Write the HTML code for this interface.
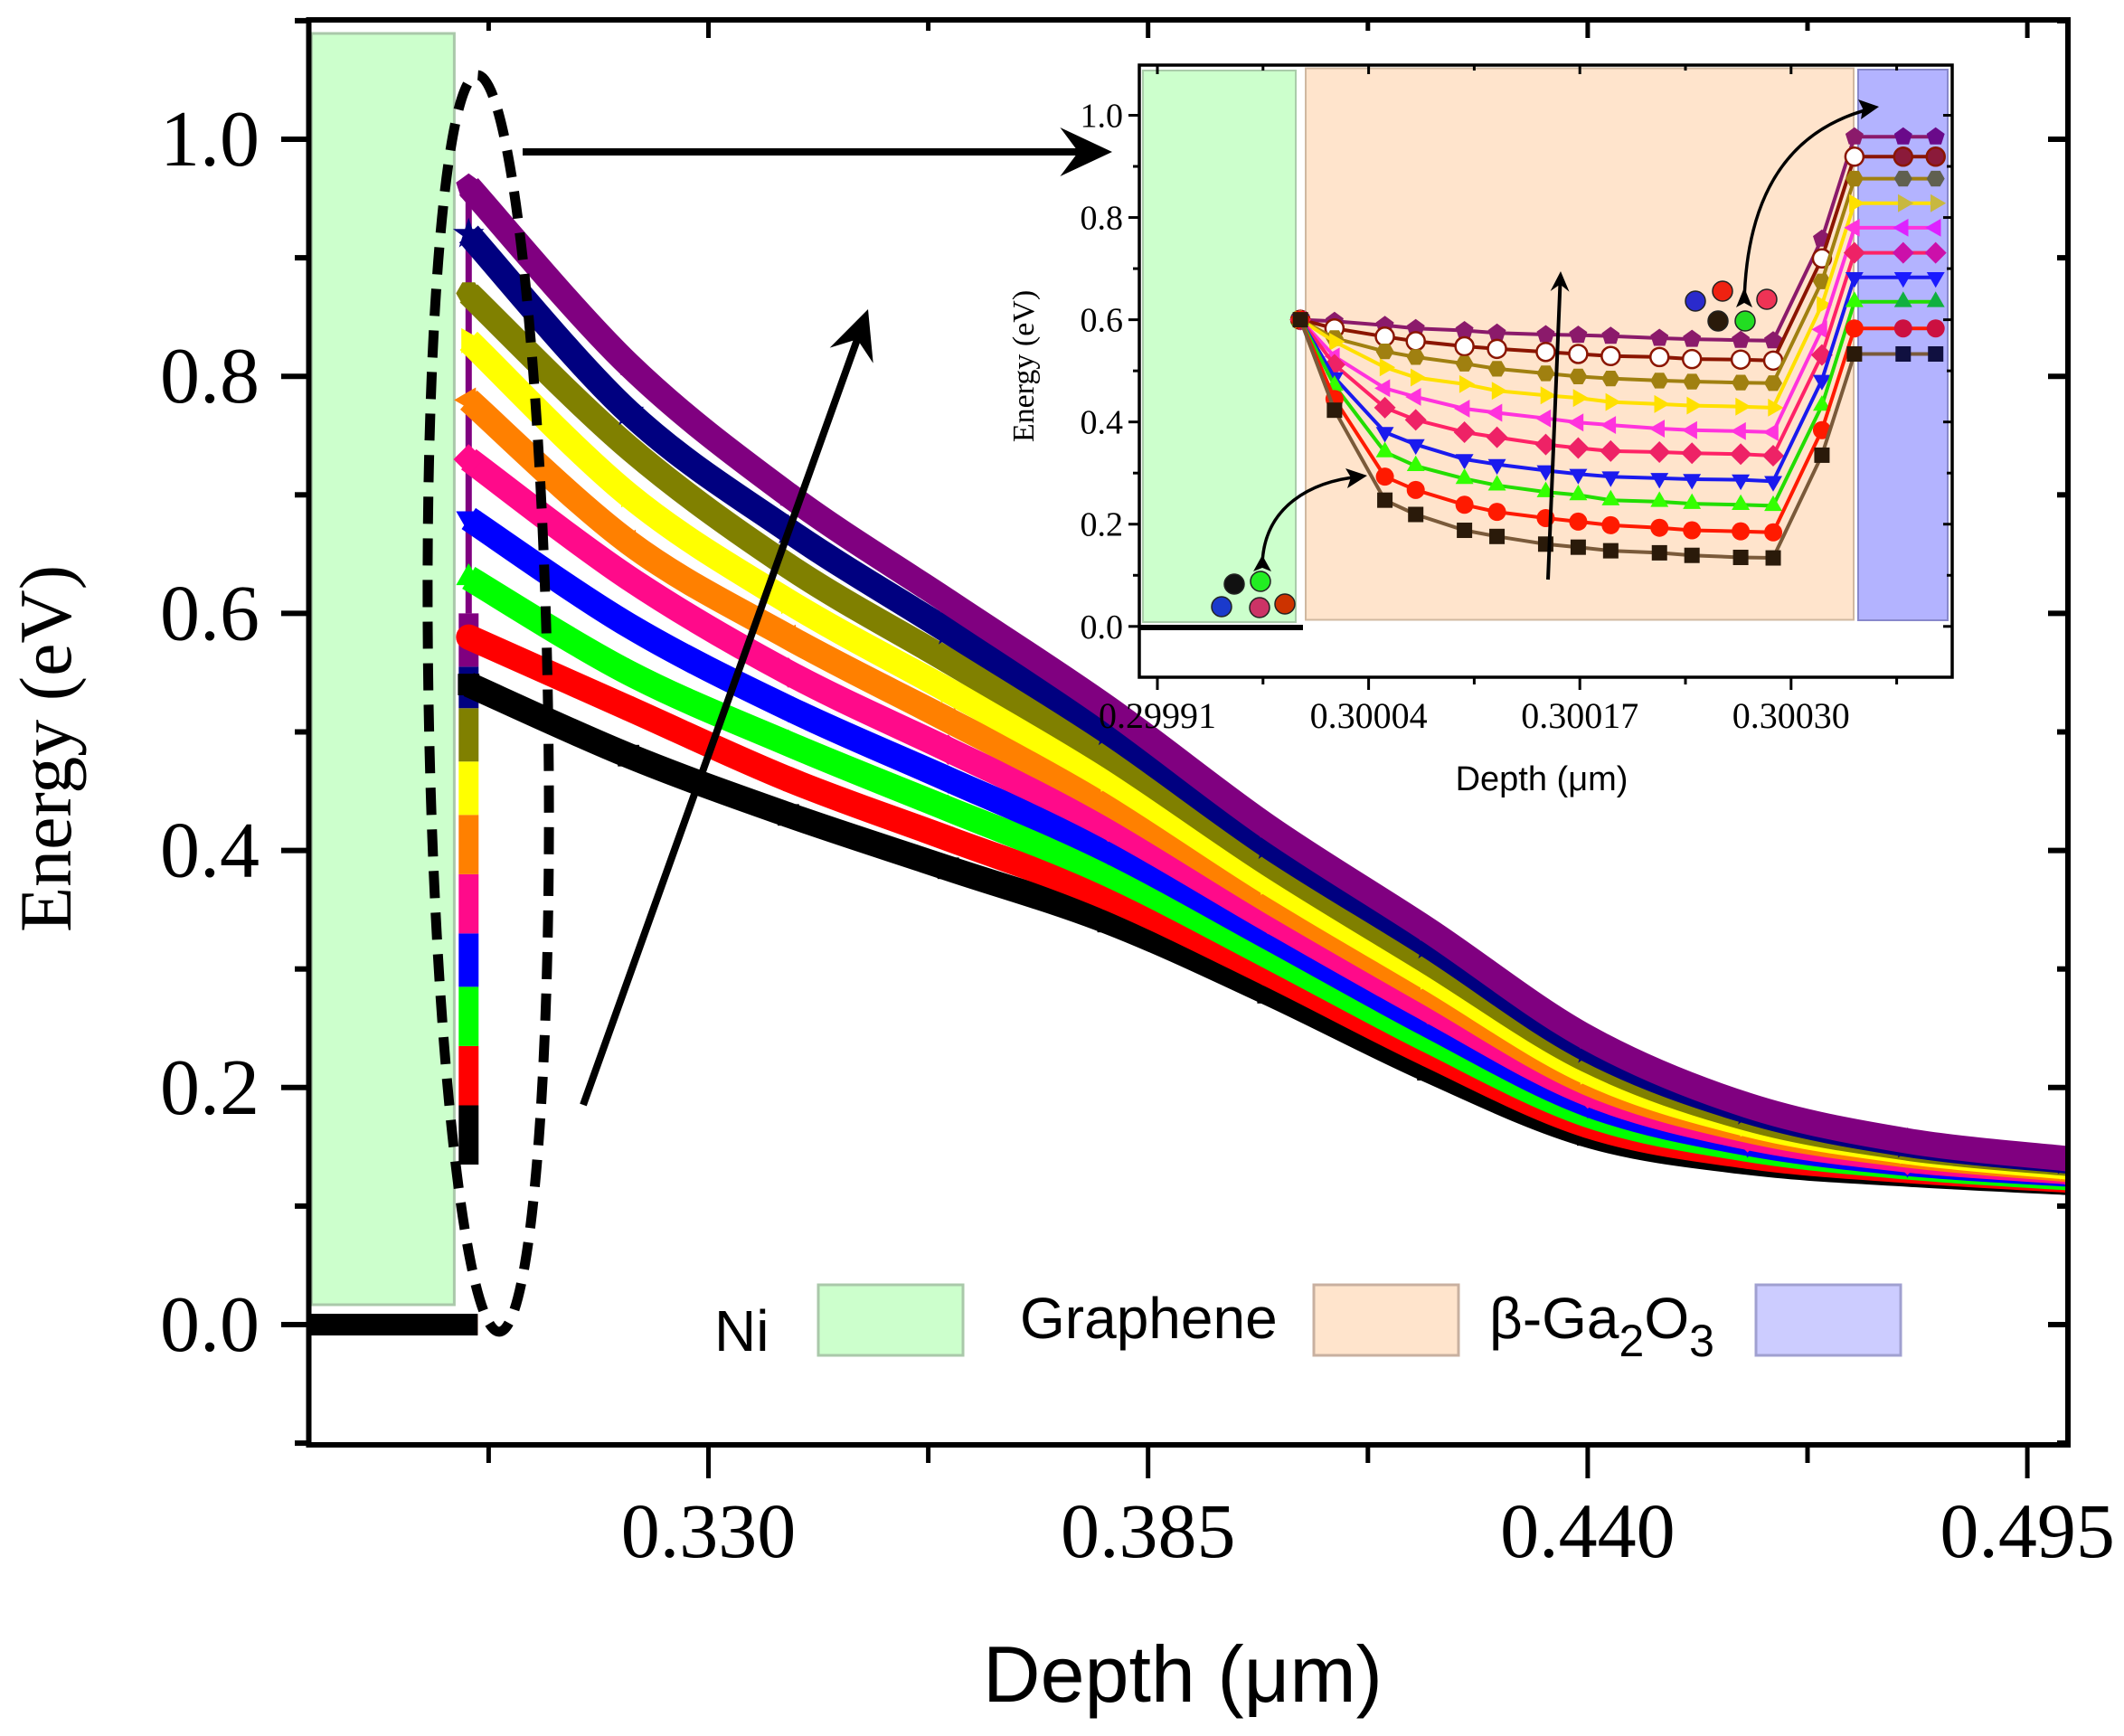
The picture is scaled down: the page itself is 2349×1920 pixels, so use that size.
<!DOCTYPE html>
<html><head><meta charset="utf-8"><style>
html,body{margin:0;padding:0;background:#fff;}
svg{display:block;}
</style></head><body>
<svg id="chart" width="2349" height="1920" viewBox="0 0 2349 1920" xmlns="http://www.w3.org/2000/svg">
<defs>
<clipPath id="mainClip"><rect x="341" y="22" width="1946" height="1576"/></clipPath>
<clipPath id="insetClip"><rect x="1260" y="72" width="899" height="677"/></clipPath>
</defs>
<rect x="0" y="0" width="2349" height="1920" fill="#fff"/>
<g id="mainG"></g>
<g id="insetG"></g>
<g id="overlay"></g>
</svg>
<script>
// ---------- MAIN CHART DATA ----------
const mainDepth = [0.30,0.32,0.34,0.36,0.38,0.40,0.42,0.44,0.46,0.48,0.50];
const mainS0 = [0.54,0.48,0.43,0.385,0.34,0.28,0.215,0.16,0.137,0.127,0.12];
const mainS1 = [0.58,0.52,0.46,0.41,0.36,0.296,0.228,0.168,0.142,0.130,0.122];
const mainS2 = [0.63,0.55,0.49,0.435,0.38,0.311,0.24,0.177,0.148,0.133,0.124];
const mainS3 = [0.68,0.59,0.52,0.46,0.40,0.327,0.253,0.186,0.153,0.136,0.127];
const mainS4 = [0.73,0.63,0.55,0.485,0.42,0.342,0.266,0.195,0.158,0.139,0.129];
const mainS5 = [0.78,0.66,0.58,0.51,0.44,0.358,0.28,0.204,0.164,0.143,0.131];
const mainS6 = [0.83,0.70,0.61,0.535,0.46,0.373,0.293,0.213,0.169,0.146,0.133];
const mainS7 = [0.87,0.74,0.64,0.56,0.48,0.389,0.306,0.223,0.174,0.149,0.136];
const mainS8 = [0.92,0.77,0.67,0.585,0.50,0.404,0.32,0.232,0.18,0.152,0.138];
const mainS9 = [0.96,0.81,0.70,0.61,0.52,0.42,0.333,0.242,0.185,0.155,0.14];
const mainSeries = [mainS0,mainS1,mainS2,mainS3,mainS4,mainS5,mainS6,mainS7,mainS8,mainS9];
const mainColors = ['#000000','#ff0000','#00ff00','#0000ff','#ff0a8a','#ff8000','#ffff00','#808000','#000080','#800080'];
const mainMarkers = ['square','circle','triUp','triDown','diamond','triLeft','triRight','hexagon','star','pentagon'];
const mainMinAtInterface = [0.135,0.185,0.235,0.285,0.33,0.38,0.43,0.475,0.52,0.555];
const niDepth = [0.28,0.30];
const mainXTicks = [0.330,0.385,0.440,0.495];
const mainXTickLabels = ['0.330','0.385','0.440','0.495'];
const mainXMinor = [0.3025,0.3575,0.4125,0.4675];
const mainYTicks = [0.0,0.2,0.4,0.6,0.8,1.0];
const mainYTickLabels = ['0.0','0.2','0.4','0.6','0.8','1.0'];
const mainYMinor = [-0.1,0.1,0.3,0.5,0.7,0.9,1.1];

// ---------- INSET DATA ----------
const insetDepth = [0.299998,0.300019,0.30005,0.300069,0.300099,0.300119,0.300149,0.300169,0.300189,0.300219,0.300239,0.300269,0.300289,0.300319,0.300339,0.300369,0.300389];
const insetS0 = [0.6,0.423,0.247,0.219,0.188,0.176,0.161,0.155,0.148,0.144,0.139,0.135,0.134,0.335,0.533,0.533,0.533];
const insetS1 = [0.6,0.445,0.293,0.267,0.238,0.224,0.212,0.205,0.198,0.193,0.188,0.186,0.184,0.384,0.583,0.583,0.583];
const insetS2 = [0.6,0.471,0.341,0.314,0.289,0.276,0.263,0.257,0.247,0.244,0.240,0.238,0.236,0.432,0.635,0.635,0.635];
const insetS3 = [0.6,0.487,0.38,0.356,0.327,0.317,0.305,0.298,0.293,0.29,0.288,0.287,0.284,0.482,0.683,0.683,0.683];
const insetS4 = [0.6,0.512,0.428,0.404,0.38,0.37,0.356,0.349,0.343,0.341,0.339,0.337,0.334,0.531,0.731,0.731,0.731];
const insetS5 = [0.6,0.528,0.466,0.449,0.426,0.418,0.407,0.399,0.394,0.387,0.384,0.382,0.38,0.581,0.78,0.78,0.78];
const insetS6 = [0.6,0.557,0.507,0.487,0.474,0.461,0.452,0.447,0.439,0.435,0.432,0.43,0.428,0.629,0.828,0.828,0.828];
const insetS7 = [0.6,0.564,0.538,0.527,0.514,0.504,0.495,0.489,0.485,0.481,0.479,0.477,0.476,0.675,0.876,0.876,0.876];
const insetS8 = [0.6,0.583,0.567,0.558,0.548,0.543,0.537,0.533,0.529,0.527,0.523,0.522,0.52,0.72,0.919,0.919,0.919];
const insetS9 = [0.6,0.597,0.589,0.583,0.579,0.574,0.571,0.57,0.568,0.564,0.562,0.56,0.559,0.758,0.958,0.958,0.958];
const insetSeries = [insetS0,insetS1,insetS2,insetS3,insetS4,insetS5,insetS6,insetS7,insetS8,insetS9];
const insetLineColors = ['#7a5a3a','#ff1a00','#22dd00','#1a1aee','#ff2266','#ff33dd','#ffe000','#a08010','#8b1500','#8b1a6b'];
const insetFillColors = ['#2a1a0a','#ff1a00','#33ff00','#1a1aee','#ee2266','#ff33dd','#ffe000','#a08010','#ffffff','#8b1a6b'];
const insetRightColors = ['#101040','#cc1040','#10b040','#1a1aff','#cc10aa','#dd22ff','#c8b840','#606050','#8b1a3a','#6a0a8a'];
const insetMarkers = ['square','circle','triUp','triDown','diamond','triLeft','triRight','hexagon','circle','pentagon'];
const insetXTicks = [0.29991,0.30004,0.30017,0.30030];
const insetXTickLabels = ['0.29991','0.30004','0.30017','0.30030'];
const insetXMinor = [0.299975,0.300105,0.300235,0.300365];
const insetYTicks = [0.0,0.2,0.4,0.6,0.8,1.0];
const insetYTickLabels = ['0.0','0.2','0.4','0.6','0.8','1.0'];
const insetYMinor = [0.1,0.3,0.5,0.7,0.9];

const NS='http://www.w3.org/2000/svg';
function mk(tag, attrs, parent){const e=document.createElementNS(NS,tag);for(const k in attrs)e.setAttribute(k,attrs[k]);if(parent)parent.appendChild(e);return e;}

const mx = d => 783.5 + (d-0.33)/0.055*486.2;
const my = v => 1465 - v*1311;
const ix = d => 1280 + (d-0.29991)/0.00013*233.6;
const iy = v => 692.8 - v*565.3;

function smoothPath(P){
  let d='M'+P[0][0].toFixed(1)+','+P[0][1].toFixed(1);
  for(let i=0;i<P.length-1;i++){
    const p0=P[Math.max(0,i-1)],p1=P[i],p2=P[i+1],p3=P[Math.min(P.length-1,i+2)];
    const c1x=p1[0]+(p2[0]-p0[0])/6,c1y=p1[1]+(p2[1]-p0[1])/6;
    const c2x=p2[0]-(p3[0]-p1[0])/6,c2y=p2[1]-(p3[1]-p1[1])/6;
    d+=' C'+c1x.toFixed(1)+','+c1y.toFixed(1)+' '+c2x.toFixed(1)+','+c2y.toFixed(1)+' '+p2[0].toFixed(1)+','+p2[1].toFixed(1);
  }
  return d;
}

function markerPath(type, x, y, r){
  const pts=(n,rot,rad)=>{let a=[];for(let i=0;i<n;i++){const t=rot+i*2*Math.PI/n;a.push((x+rad*Math.cos(t)).toFixed(1)+','+(y+rad*Math.sin(t)).toFixed(1));}return a.join(' ');};
  switch(type){
    case 'square': return {tag:'rect',a:{x:x-r*0.85,y:y-r*0.85,width:r*1.7,height:r*1.7}};
    case 'circle': return {tag:'circle',a:{cx:x,cy:y,r:r}};
    case 'triUp': return {tag:'polygon',a:{points:pts(3,-Math.PI/2,r*1.15)}};
    case 'triDown': return {tag:'polygon',a:{points:pts(3,Math.PI/2,r*1.15)}};
    case 'triLeft': return {tag:'polygon',a:{points:pts(3,Math.PI,r*1.15)}};
    case 'triRight': return {tag:'polygon',a:{points:pts(3,0,r*1.15)}};
    case 'diamond': return {tag:'polygon',a:{points:pts(4,0,r*1.2)}};
    case 'hexagon': return {tag:'polygon',a:{points:pts(6,0,r)}};
    case 'pentagon': return {tag:'polygon',a:{points:pts(5,-Math.PI/2,r*1.05)}};
    case 'star': { let a=[];for(let i=0;i<10;i++){const t=-Math.PI/2+i*Math.PI/5;const rr=i%2?r*0.5:r*1.3;a.push((x+rr*Math.cos(t)).toFixed(1)+','+(y+rr*Math.sin(t)).toFixed(1));} return {tag:'polygon',a:{points:a.join(' ')}}; }
  }
}

// ================= MAIN =================
const mainG=document.getElementById('mainG');
const ni=mk('rect',{x:mx(0.28)+3,y:37,width:mx(0.2982)-mx(0.28)-3,height:1443-37,fill:'#ccffcc',stroke:'#aac8aa','stroke-width':3},mainG);



const plotG=mk('g',{'clip-path':'url(#mainClip)'},mainG);



for(let k=mainSeries.length-1;k>=0;k--){
  const l=mk('line',{x1:mx(niDepth[0]),y1:my(0),x2:mx(niDepth[1])+10,y2:my(0),stroke:mainColors[k],'stroke-width':24-k*0.6},plotG);
  
  
}
for(let k=0;k<mainSeries.length;k++){
  const top = k<mainSeries.length-1 ? mainMinAtInterface[k+1] : 0.6;
  const s=mk('line',{x1:mx(0.30),y1:my(mainMinAtInterface[k]),x2:mx(0.30),y2:my(top),stroke:mainColors[k],'stroke-width':22},plotG);
  
  
}
const pl=mk('line',{x1:mx(0.30),y1:my(0.6),x2:mx(0.30),y2:my(mainSeries[9][0]),stroke:mainColors[9],'stroke-width':7},plotG);



for(let k=0;k<mainSeries.length;k++){
  const vals=mainSeries[k];
  const g=mk('g',{},plotG);
  
  
  const P=mainDepth.map((d,i)=>[mx(d),my(vals[i])]);
  const line=mk('path',{d:smoothPath(P),fill:'none',stroke:mainColors[k],'stroke-width':28,'stroke-linejoin':'round'},g);
  
  
  mainDepth.forEach((d,i)=>{
    const m=markerPath(mainMarkers[k],mx(d),my(vals[i]),14);
    const el=mk(m.tag,Object.assign({fill:mainColors[k]},m.a),g);
    
    
  });
}

const frame=mk('rect',{x:341.5,y:22,width:1945.5,height:1576,fill:'none',stroke:'#000','stroke-width':6},mainG);



mainXTicks.forEach((d,i)=>{
  const t=mk('line',{x1:mx(d),y1:1598,x2:mx(d),y2:1635,stroke:'#000','stroke-width':5},mainG);
  
  
  const tt=mk('line',{x1:mx(d),y1:22,x2:mx(d),y2:42,stroke:'#000','stroke-width':5},mainG);
  
  
  const lb=mk('text',{x:mx(d),y:1722,'text-anchor':'middle','font-family':'Liberation Serif, serif','font-size':86},mainG);
  lb.textContent=mainXTickLabels[i];
  
  
});
mainXMinor.forEach(d=>{
  const t=mk('line',{x1:mx(d),y1:1598,x2:mx(d),y2:1618,stroke:'#000','stroke-width':5},mainG);
  
  
  const tt=mk('line',{x1:mx(d),y1:22,x2:mx(d),y2:34,stroke:'#000','stroke-width':5},mainG);
  
  
});
mainYTicks.forEach((v,i)=>{
  const t=mk('line',{x1:311,y1:my(v),x2:341,y2:my(v),stroke:'#000','stroke-width':6},mainG);
  
  
  const tr=mk('line',{x1:2287,y1:my(v),x2:2265,y2:my(v),stroke:'#000','stroke-width':6},mainG);
  
  
  const lb=mk('text',{x:287,y:my(v)+29,'text-anchor':'end','font-family':'Liberation Serif, serif','font-size':88},mainG);
  lb.textContent=mainYTickLabels[i];
  
  
});
mainYMinor.forEach(v=>{
  const t=mk('line',{x1:326,y1:my(v),x2:341,y2:my(v),stroke:'#000','stroke-width':6},mainG);
  
  
  const tr=mk('line',{x1:2287,y1:my(v),x2:2275,y2:my(v),stroke:'#000','stroke-width':6},mainG);
  
  
});
const yt=mk('text',{x:0,y:0,transform:'translate(78,828) rotate(-90)','text-anchor':'middle','font-family':'Liberation Serif, serif','font-size':82},mainG);
yt.textContent='Energy (eV)';


const xt=mk('text',{x:1308,y:1882,'text-anchor':'middle','font-family':'Liberation Sans, sans-serif','font-size':88},mainG);
xt.textContent='Depth (\u03bcm)';



const leg=mk('g',{},mainG);


const legItems=[['Ni',790,1494,905,'#ccffcc','#aac8aa'],['Graphene',1128,1480,1453,'#ffe4cc','#c8b0a0'],['\u03b2-Ga',1647,1480,1942,'#ccccff','#a0a0d0']];
legItems.forEach((it,i)=>{
  const t=mk('text',{x:it[1],y:it[2],'font-family':'Liberation Sans, sans-serif','font-size':64},leg);
  if(i===2){t.innerHTML='\u03b2-Ga<tspan dy="20" font-size="50">2</tspan><tspan dy="-20">O</tspan><tspan dy="20" font-size="50">3</tspan>';}
  else t.textContent=it[0];
  
  
  const r=mk('rect',{x:it[3],y:1421,width:160,height:78,fill:it[4],stroke:it[5],'stroke-width':3},leg);
  
  
});

// ================= INSET =================
const insetG=document.getElementById('insetG');
const ibg=mk('rect',{x:1260,y:72,width:899,height:677,fill:'#fff'},insetG);


const regions=[[1264,78,169,610,'#ccffcc','#aaccaa','inset-ni-region'],[1444,75.5,606,610,'#ffe4cc','#d0b8a0','inset-graphene-region'],[2055,77,99,609,'#b3b3ff','#8888cc','inset-ga2o3-region']];
regions.forEach(r=>{
  const e=mk('rect',{x:r[0],y:r[1],width:r[2],height:r[3],fill:r[4],stroke:r[5],'stroke-width':2},insetG);
  
  
});
const zl=mk('line',{x1:1260,y1:694,x2:1441,y2:694,stroke:'#000','stroke-width':6},insetG);


const icG=mk('g',{'clip-path':'url(#insetClip)'},insetG);


for(let k=insetSeries.length-1;k>=0;k--){
  const vals=insetSeries[k];
  const g=mk('g',{},icG);
  
  
  const pts=insetDepth.map((d,i)=>ix(d).toFixed(1)+','+iy(vals[i]).toFixed(1)).join(' ');
  const line=mk('polyline',{points:pts,fill:'none',stroke:insetLineColors[k],'stroke-width':4},g);
  
  
  insetDepth.forEach((d,i)=>{
    const m=markerPath(insetMarkers[k],ix(d),iy(vals[i]),10);
    const fill = i>=15 ? insetRightColors[k] : insetFillColors[k];
    const el=mk(m.tag,Object.assign({fill:fill,stroke:k===8?'#8b1500':'none','stroke-width':2.5},m.a),g);
    
    
  });
}
const iframe=mk('rect',{x:1260,y:72,width:899,height:677,fill:'none',stroke:'#000','stroke-width':3.5},insetG);


insetXTicks.forEach((d,i)=>{
  const t=mk('line',{x1:ix(d),y1:749,x2:ix(d),y2:763,stroke:'#000','stroke-width':3},insetG);
  
  
  const tt=mk('line',{x1:ix(d),y1:72,x2:ix(d),y2:82,stroke:'#000','stroke-width':3},insetG);
  
  
  const lb=mk('text',{x:ix(d),y:805,'text-anchor':'middle','font-family':'Liberation Serif, serif','font-size':40},insetG);
  lb.textContent=insetXTickLabels[i];
  
  
});
insetXMinor.forEach(d=>{
  const t=mk('line',{x1:ix(d),y1:749,x2:ix(d),y2:757,stroke:'#000','stroke-width':3},insetG);
  
  
  const tt=mk('line',{x1:ix(d),y1:72,x2:ix(d),y2:78,stroke:'#000','stroke-width':3},insetG);
  
  
});
insetYTicks.forEach((v,i)=>{
  const t=mk('line',{x1:1248,y1:iy(v),x2:1260,y2:iy(v),stroke:'#000','stroke-width':3},insetG);
  
  
  const tr=mk('line',{x1:2159,y1:iy(v),x2:2149,y2:iy(v),stroke:'#000','stroke-width':3},insetG);
  
  
  const lb=mk('text',{x:1242,y:iy(v)+13,'text-anchor':'end','font-family':'Liberation Serif, serif','font-size':38},insetG);
  lb.textContent=insetYTickLabels[i];
  
  
});
insetYMinor.forEach(v=>{
  const t=mk('line',{x1:1253,y1:iy(v),x2:1260,y2:iy(v),stroke:'#000','stroke-width':3},insetG);
  
  
  const tr=mk('line',{x1:2159,y1:iy(v),x2:2153,y2:iy(v),stroke:'#000','stroke-width':3},insetG);
  
  
});
const iyt=mk('text',{x:0,y:0,transform:'translate(1143,405) rotate(-90)','text-anchor':'middle','font-family':'Liberation Serif, serif','font-size':34},insetG);
iyt.textContent='Energy (eV)';


const ixt=mk('text',{x:1705,y:874,'text-anchor':'middle','font-family':'Liberation Sans, sans-serif','font-size':38},insetG);
ixt.textContent='Depth (\u03bcm)';



const particles=[[1365,646,'#111'],[1394,643,'#22ee22'],[1351,671,'#1a3acc'],[1393,672,'#cc3366'],[1421,668,'#cc3300'],[1875,333,'#2a2acc'],[1905,322,'#ee2211'],[1954,331,'#ee3355'],[1900,355,'#2a1a0a'],[1930,355,'#22dd22']];
particles.forEach(p=>{
  const c=mk('circle',{cx:p[0],cy:p[1],r:11,fill:p[2],stroke:'#222','stroke-width':1.5},insetG);
  
  
});

// ================= ANNOTATIONS =================
const ov=document.getElementById('overlay');
const ell=mk('ellipse',{cx:540,cy:778,rx:66,ry:695,fill:'none',stroke:'#000','stroke-width':11,'stroke-dasharray':'30 16',transform:'rotate(-1 540 778)'},ov);


function arrow(x1,y1,x2,y2,w,head,name){
  const ang=Math.atan2(y2-y1,x2-x1);const L=head*1.6;
  const bx=x2-L*Math.cos(ang), by=y2-L*Math.sin(ang);
  const l=mk('line',{x1:x1,y1:y1,x2:bx+L*0.4*Math.cos(ang),y2:by+L*0.4*Math.sin(ang),stroke:'#000','stroke-width':w},ov);
  
  
  const px=-Math.sin(ang),py=Math.cos(ang);
  const nx=bx+L*0.35*Math.cos(ang), ny=by+L*0.35*Math.sin(ang);
  const h=mk('polygon',{points:`${x2},${y2} ${bx+px*head*0.75},${by+py*head*0.75} ${nx},${ny} ${bx-px*head*0.75},${by-py*head*0.75}`,fill:'#000'},ov);
  
  
}
arrow(578,168,1230,168,8,36,'zoom-arrow');
arrow(645,1222,960,342,8,34,'trend-arrow');
arrow(1712,641,1726,300,4,14,'inset-trend-arrow');
const c1=mk('path',{d:'M1396,624 C1398,560 1450,532 1505,527',fill:'none',stroke:'#000','stroke-width':3.5},ov);


const h1=mk('polygon',{points:'1512,526 1488,518 1494,528 1490,540',fill:'#000'},ov);


const h1b=mk('polygon',{points:'1396,632 1386,614 1396,618 1406,614',fill:'#000',transform:'rotate(180 1396 623)'},ov);


const c2=mk('path',{d:'M1929,335 C1932,200 1990,140 2070,120',fill:'none',stroke:'#000','stroke-width':3.5},ov);


const h2=mk('polygon',{points:'2078,118 2055,110 2060,120 2058,132',fill:'#000'},ov);


const h2b=mk('polygon',{points:'1929,318 1920,340 1929,335 1938,340',fill:'#000'},ov);


</script>
</body></html>
